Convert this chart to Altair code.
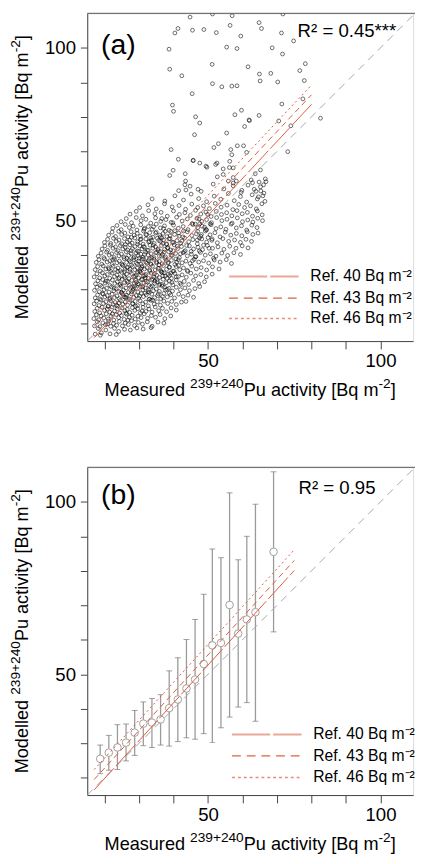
import altair as alt
import pandas as pd

# ---------------- data ----------------
TICKS = [20, 30, 40, 50, 60, 70, 80, 90, 100]
X_DOMAIN = [15, 109.43]
Y_DOMAIN = [15, 110]

OUTLIERS_A = [
    (44.8, 108.9), (51.3, 109.8), (57.0, 109.3), (71.7, 109.8), (40.4, 104.3), (41.3, 105.6),
    (45.5, 105.1), (48.8, 105.3), (52.4, 104.4), (56.4, 106.5), (59.5, 103.4), (64.8, 107.3),
    (65.5, 105.6), (71.3, 104.3), (74.8, 102.0), (38.7, 99.6), (55.4, 100.2), (58.4, 99.8),
    (68.6, 100.0), (71.6, 98.2), (38.9, 93.8), (42.4, 91.9), (51.2, 95.2), (61.6, 94.5),
    (64.9, 92.4), (65.1, 90.4), (68.2, 92.6), (70.2, 90.1), (76.6, 93.4), (78.2, 95.4),
    (77.9, 90.5), (45.4, 86.7), (51.3, 89.6), (54.0, 88.7), (56.9, 88.9), (58.4, 89.0),
    (39.7, 83.4), (40.0, 81.6), (46.4, 80.0), (47.6, 78.2), (46.1, 74.8), (57.8, 80.6),
    (59.7, 81.9), (61.9, 79.1), (60.6, 77.2), (64.8, 80.4), (71.4, 83.7), (77.5, 85.2),
    (82.6, 79.6), (55.4, 75.3), (39.3, 70.5), (41.4, 67.7), (45.7, 67.4), (47.6, 66.6),
    (51.7, 71.1), (53.0, 72.2), (56.6, 70.5), (56.9, 69.0), (58.5, 71.6), (60.3, 71.6),
    (73.1, 69.9), (38.9, 63.0), (39.9, 64.5), (43.4, 63.5), (43.5, 61.4), (43.6, 58.8),
    (47.1, 59.0), (49.4, 65.7), (52.2, 66.2), (54.4, 64.9), (56.2, 65.3), (57.3, 62.4),
    (61.2, 69.7), (63.7, 63.5), (65.2, 64.6), (70.5, 78.8), (74.0, 77.4), (45.7, 67.3),
    (49.7, 65.4), (52.6, 66.6), (52.7, 62.6), (54.4, 63.3), (56.3, 67.1), (57.3, 65.2),
    (55.9, 61.4), (57.3, 60.0), (58.2, 61.4), (59.6, 58.1), (62.0, 78.9), (43.3, 60.3),
]

CLOUD_A = [
    (17.3, 17.0), (18.2, 18.6), (19.1, 17.4), (20.4, 18.2), (21.6, 17.1), (22.9, 18.7), (24.1, 17.8),
    (25.8, 18.4), (27.5, 18.2), (29.4, 18.8), (31.2, 18.5), (33.5, 18.9), (18.8, 16.7), (23.4, 16.9),
    (17.1, 19.4), (17.9, 20.6), (18.7, 19.2), (19.5, 20.3), (20.3, 19.7), (21.2, 20.8), (21.8, 19.3),
    (22.6, 20.1), (23.5, 19.6), (24.3, 20.7), (25.2, 19.4), (26.0, 20.2), (26.9, 19.8), (27.8, 20.9),
    (28.7, 19.5), (29.8, 20.4), (31.0, 19.9), (32.4, 20.6), (33.8, 19.3), (35.5, 20.5), (37.2, 20.2),
    (20.9, 20.0),
    (16.9, 21.5), (17.6, 22.6), (18.3, 21.2), (19.0, 22.3), (19.8, 21.7), (20.5, 22.9), (21.1, 21.4),
    (21.9, 22.2), (22.7, 21.1), (23.4, 22.7), (24.1, 21.8), (24.9, 22.4), (25.7, 21.3), (26.4, 22.8),
    (27.2, 21.9), (28.0, 22.5), (28.9, 21.4), (29.7, 22.2), (30.6, 21.8), (31.5, 22.9), (32.5, 21.6),
    (33.6, 22.4), (34.8, 21.9), (36.1, 22.7), (37.5, 21.5), (39.2, 22.3), (22.3, 22.9), (26.8, 21.1),
    (17.2, 23.6), (17.9, 24.5), (18.6, 23.2), (19.3, 24.8), (20.0, 23.9), (20.8, 24.3), (21.5, 23.4),
    (22.2, 24.9), (22.9, 23.7), (23.7, 24.4), (24.4, 23.1), (25.1, 24.6), (25.9, 23.8), (26.6, 24.2),
    (27.3, 23.3), (28.1, 24.7), (28.8, 23.9), (29.6, 24.4), (30.4, 23.2), (31.2, 24.8), (32.0, 23.6),
    (32.9, 24.3), (33.8, 23.4), (34.7, 24.9), (35.7, 23.8), (36.8, 24.5), (38.0, 23.5), (39.3, 24.6),
    (40.8, 24.0), (21.0, 25.0), (26.2, 23.1), (30.9, 23.7),
    (17.0, 25.8), (17.7, 26.6), (18.4, 25.3), (19.0, 26.9), (19.7, 25.9), (20.4, 26.4), (21.1, 25.2),
    (21.8, 26.7), (22.5, 25.6), (23.1, 26.2), (23.8, 25.1), (24.6, 26.8), (25.3, 25.7), (26.0, 26.3),
    (26.7, 25.4), (27.4, 26.9), (28.1, 25.9), (28.9, 26.5), (29.6, 25.3), (30.3, 26.7), (31.1, 25.8),
    (31.9, 26.3), (32.7, 25.2), (33.5, 26.8), (34.4, 25.7), (35.3, 26.4), (36.2, 25.4), (37.2, 26.6),
    (38.3, 25.9), (39.5, 26.5), (40.8, 25.6), (42.3, 26.3), (43.6, 26.5), (24.2, 26.0), (29.0, 25.1),
    (34.0, 26.9),
    (17.3, 27.5), (18.0, 28.4), (18.7, 27.2), (19.4, 28.8), (20.1, 27.8), (20.8, 28.2), (21.5, 27.1),
    (22.2, 28.6), (22.9, 27.6), (23.6, 28.1), (24.3, 27.3), (25.0, 28.9), (25.7, 27.8), (26.4, 28.3),
    (27.1, 27.2), (27.8, 28.7), (28.5, 27.7), (29.2, 28.2), (29.9, 27.4), (30.6, 28.8), (31.3, 27.9),
    (32.1, 28.4), (32.9, 27.1), (33.7, 28.6), (34.5, 27.6), (35.4, 28.2), (36.3, 27.3), (37.2, 28.8),
    (38.2, 27.8), (39.2, 28.4), (40.3, 27.5), (41.5, 28.6), (42.8, 27.9), (44.2, 28.3), (45.8, 27.7),
    (26.0, 27.6), (31.8, 28.9), (36.8, 27.9),
    (17.1, 29.7), (17.8, 30.6), (18.5, 29.3), (19.2, 30.8), (19.9, 29.9), (20.6, 30.3), (21.3, 29.2),
    (22.0, 30.7), (22.7, 29.6), (23.4, 30.2), (24.1, 29.4), (24.8, 30.9), (25.5, 29.8), (26.2, 30.4),
    (26.9, 29.1), (27.6, 30.6), (28.3, 29.7), (29.0, 30.3), (29.7, 29.2), (30.4, 30.8), (31.1, 29.9),
    (31.8, 30.4), (32.6, 29.3), (33.4, 30.7), (34.2, 29.6), (35.0, 30.1), (35.9, 29.4), (36.8, 30.9),
    (37.7, 29.8), (38.7, 30.3), (39.7, 29.5), (40.8, 30.6), (42.0, 29.9), (43.3, 30.4), (44.6, 29.6),
    (46.2, 30.2), (47.6, 30.8), (28.7, 30.9), (33.0, 29.1), (38.2, 30.0),
    (17.4, 31.6), (18.1, 32.5), (18.8, 31.2), (19.5, 32.8), (20.2, 31.8), (20.9, 32.3), (21.6, 31.1),
    (22.3, 32.7), (23.0, 31.7), (23.7, 32.2), (24.4, 31.3), (25.1, 32.9), (25.8, 31.9), (26.5, 32.4),
    (27.2, 31.2), (27.9, 32.6), (28.6, 31.6), (29.3, 32.1), (30.0, 31.4), (30.7, 32.8), (31.4, 31.8),
    (32.1, 32.3), (32.9, 31.1), (33.7, 32.7), (34.5, 31.7), (35.3, 32.2), (36.1, 31.5), (37.0, 32.9),
    (37.9, 31.9), (38.8, 32.4), (39.8, 31.3), (40.8, 32.7), (41.9, 31.8), (43.1, 32.3), (44.4, 31.4),
    (45.8, 32.6), (47.3, 31.7), (49.0, 32.2), (31.0, 32.9), (35.8, 31.2), (26.8, 32.0),
    (17.0, 33.6), (17.8, 34.5), (18.6, 33.3), (19.4, 34.8), (20.1, 33.9), (20.8, 34.3), (21.5, 33.2),
    (22.2, 34.7), (22.9, 33.7), (23.6, 34.2), (24.3, 33.4), (25.0, 34.9), (25.7, 33.8), (26.4, 34.4),
    (27.1, 33.1), (27.8, 34.6), (28.5, 33.7), (29.2, 34.2), (29.9, 33.3), (30.6, 34.8), (31.3, 33.9),
    (32.0, 34.3), (32.7, 33.2), (33.5, 34.7), (34.3, 33.6), (35.1, 34.1), (35.9, 33.4), (36.7, 34.9),
    (37.6, 33.8), (38.5, 34.4), (39.4, 33.2), (40.4, 34.6), (41.4, 33.7), (42.5, 34.2), (43.7, 33.5),
    (45.0, 34.7), (46.4, 33.9), (47.9, 34.3), (49.5, 33.6), (51.2, 34.4), (29.6, 34.9), (34.0, 33.0),
    (38.9, 34.0),
    (17.3, 35.7), (18.0, 36.6), (18.8, 35.3), (19.6, 36.8), (20.4, 35.9), (21.1, 36.3), (21.8, 35.2),
    (22.5, 36.7), (23.2, 35.7), (23.9, 36.2), (24.6, 35.4), (25.3, 36.9), (26.0, 35.8), (26.7, 36.4),
    (27.4, 35.1), (28.1, 36.6), (28.8, 35.7), (29.5, 36.2), (30.2, 35.3), (30.9, 36.8), (31.6, 35.9),
    (32.3, 36.3), (33.1, 35.2), (33.9, 36.7), (34.7, 35.6), (35.5, 36.1), (36.3, 35.4), (37.1, 36.9),
    (38.0, 35.8), (38.9, 36.4), (39.8, 35.2), (40.8, 36.6), (41.8, 35.7), (42.9, 36.2), (44.0, 35.5),
    (45.3, 36.7), (46.6, 35.9), (48.0, 36.3), (49.6, 35.6), (51.3, 36.5), (53.2, 35.9), (30.5, 36.0),
    (36.5, 35.0), (25.8, 35.1),
    (17.6, 37.8), (18.4, 38.6), (19.2, 37.3), (20.0, 38.8), (20.8, 37.9), (21.5, 38.3), (22.2, 37.2),
    (22.9, 38.7), (23.6, 37.7), (24.3, 38.2), (25.0, 37.4), (25.7, 38.9), (26.4, 37.8), (27.1, 38.4),
    (27.8, 37.1), (28.5, 38.6), (29.2, 37.7), (29.9, 38.2), (30.6, 37.3), (31.3, 38.8), (32.0, 37.9),
    (32.7, 38.3), (33.5, 37.2), (34.3, 38.7), (35.1, 37.6), (35.9, 38.1), (36.7, 37.4), (37.6, 38.9),
    (38.5, 37.8), (39.4, 38.4), (40.4, 37.2), (41.4, 38.6), (42.5, 37.7), (43.6, 38.2), (44.8, 37.5),
    (46.0, 38.7), (47.3, 37.9), (48.7, 38.3), (50.2, 37.6), (51.8, 38.5), (53.5, 37.9), (55.3, 38.6),
    (56.8, 37.5), (33.0, 38.9), (27.5, 38.0),
    (18.2, 39.6), (19.0, 40.5), (19.8, 39.2), (20.6, 40.8), (21.4, 39.9), (22.1, 40.3), (22.8, 39.2),
    (23.5, 40.7), (24.2, 39.7), (24.9, 40.2), (25.6, 39.4), (26.3, 40.9), (27.0, 39.8), (27.7, 40.4),
    (28.4, 39.1), (29.1, 40.6), (29.8, 39.7), (30.5, 40.2), (31.2, 39.3), (31.9, 40.8), (32.7, 39.9),
    (33.5, 40.3), (34.3, 39.2), (35.1, 40.7), (35.9, 39.6), (36.8, 40.1), (37.7, 39.4), (38.6, 40.9),
    (39.6, 39.8), (40.6, 40.4), (41.7, 39.2), (42.8, 40.6), (44.0, 39.7), (45.2, 40.2), (46.5, 39.5),
    (47.8, 40.7), (49.2, 39.9), (50.7, 40.3), (52.3, 39.6), (54.0, 40.5), (55.7, 39.8), (57.5, 40.6),
    (59.4, 40.1), (36.2, 40.9), (30.0, 39.0),
    (19.3, 41.7), (20.1, 42.6), (20.9, 41.3), (21.7, 42.8), (22.5, 41.9), (23.2, 42.3), (23.9, 41.2),
    (24.6, 42.7), (25.3, 41.7), (26.0, 42.2), (26.7, 41.4), (27.4, 42.9), (28.1, 41.8), (28.8, 42.4),
    (29.5, 41.1), (30.2, 42.6), (30.9, 41.7), (31.6, 42.2), (32.4, 41.3), (33.2, 42.8), (34.0, 41.9),
    (34.8, 42.3), (35.6, 41.2), (36.5, 42.7), (37.4, 41.6), (38.3, 42.1), (39.2, 41.4), (40.2, 42.9),
    (41.2, 41.8), (42.3, 42.4), (43.4, 41.2), (44.6, 42.6), (45.8, 41.7), (47.1, 42.2), (48.4, 41.5),
    (49.8, 42.7), (51.3, 41.9), (52.9, 42.3), (54.6, 41.6), (56.3, 42.5), (58.1, 41.9), (59.9, 42.6),
    (61.6, 42.0), (38.0, 43.0), (45.1, 41.0),
    (20.0, 43.6), (20.9, 44.5), (21.8, 43.3), (22.6, 44.8), (23.4, 43.9), (24.2, 44.3), (25.0, 43.2),
    (25.8, 44.7), (26.6, 43.7), (27.3, 44.2), (28.0, 43.4), (28.8, 44.9), (29.6, 43.8), (30.4, 44.4),
    (31.2, 43.1), (32.0, 44.6), (32.8, 43.7), (33.6, 44.2), (34.4, 43.3), (35.3, 44.8), (36.2, 43.9),
    (37.1, 44.3), (38.0, 43.2), (39.0, 44.7), (40.0, 43.6), (41.0, 44.1), (42.1, 43.4), (43.2, 44.9),
    (44.4, 43.8), (45.6, 44.4), (46.9, 43.2), (48.2, 44.6), (49.6, 43.7), (51.1, 44.2), (52.7, 43.5),
    (54.3, 44.7), (56.0, 43.9), (57.7, 44.3), (59.4, 43.6), (61.0, 44.5), (62.6, 43.9), (47.5, 44.9),
    (36.6, 44.9),
    (21.2, 45.7), (22.2, 46.6), (23.2, 45.3), (24.1, 46.8), (25.0, 45.9), (25.9, 46.3), (26.8, 45.2),
    (27.7, 46.7), (28.6, 45.7), (29.5, 46.2), (30.4, 45.4), (31.3, 46.9), (32.2, 45.8), (33.1, 46.4),
    (34.0, 45.1), (35.0, 46.6), (36.0, 45.7), (37.0, 46.2), (38.1, 45.3), (39.2, 46.8), (40.3, 45.9),
    (41.5, 46.3), (42.7, 45.2), (44.0, 46.7), (45.3, 45.6), (46.6, 46.1), (47.9, 45.4), (49.2, 46.9),
    (50.6, 45.8), (52.0, 46.4), (53.5, 45.2), (55.0, 46.6), (56.6, 45.7), (58.2, 46.2), (59.8, 45.5),
    (61.4, 46.7), (63.0, 45.9), (64.5, 46.3), (47.0, 46.8), (50.0, 45.0),
    (22.4, 47.7), (23.6, 48.5), (24.8, 47.3), (26.0, 48.8), (27.2, 47.9), (28.3, 48.3), (29.4, 47.2),
    (30.5, 48.7), (31.6, 47.7), (32.7, 48.2), (33.8, 47.4), (35.0, 48.9), (36.2, 47.8), (37.4, 48.4),
    (38.7, 47.1), (40.0, 48.6), (41.4, 47.7), (42.8, 48.2), (44.2, 47.3), (45.6, 48.8), (47.0, 47.9),
    (48.3, 48.3), (49.6, 47.2), (50.9, 48.7), (52.3, 47.6), (53.7, 48.1), (55.2, 47.4), (56.7, 48.9),
    (58.2, 47.8), (59.7, 48.4), (61.2, 47.2), (62.7, 48.6), (64.2, 47.9), (46.3, 48.9), (49.0, 48.0),
    (24.8, 49.6), (26.3, 50.5), (27.8, 49.3), (29.2, 50.8), (30.6, 49.9), (32.0, 50.3), (33.4, 49.2),
    (34.8, 50.7), (36.3, 49.7), (37.8, 50.2), (39.3, 49.4), (40.9, 50.9), (42.5, 49.8), (44.0, 50.4),
    (45.4, 49.1), (46.8, 50.6), (48.2, 49.7), (49.6, 50.2), (51.0, 49.3), (52.5, 50.8), (54.0, 49.9),
    (55.5, 50.3), (57.0, 49.2), (58.5, 50.7), (60.0, 49.6), (61.5, 50.1), (63.0, 49.5), (64.4, 50.6),
    (65.8, 49.9), (47.6, 49.0),
    (27.4, 51.8), (29.2, 52.6), (31.0, 51.3), (32.8, 52.8), (34.6, 51.9), (36.4, 52.3), (38.2, 51.2),
    (40.0, 52.7), (41.7, 51.7), (43.3, 52.2), (44.9, 51.4), (46.4, 52.9), (47.9, 51.8), (49.4, 52.4),
    (50.9, 51.1), (52.4, 52.6), (53.9, 51.7), (55.4, 52.2), (56.9, 51.3), (58.4, 52.8), (59.9, 51.9),
    (61.4, 52.3), (62.9, 51.2), (64.3, 52.7), (65.7, 51.6),
    (30.2, 53.7), (32.6, 54.5), (35.0, 53.3), (37.4, 54.8), (39.6, 53.9), (41.6, 54.3), (43.5, 53.2),
    (45.3, 54.7), (47.0, 53.7), (48.7, 54.2), (50.4, 53.4), (52.1, 54.9), (53.8, 53.8), (55.5, 54.4),
    (57.2, 53.1), (58.9, 54.6), (60.6, 53.7), (62.3, 54.2), (64.0, 53.3), (65.6, 54.8),
    (33.8, 56.2), (37.5, 55.6), (40.4, 57.1), (42.9, 55.9), (45.1, 57.6), (47.3, 56.3), (49.6, 55.4),
    (51.8, 57.0), (53.7, 56.1), (55.9, 57.8), (57.6, 55.7), (59.4, 56.9), (61.2, 55.3), (62.8, 57.4),
    (64.3, 56.2), (65.9, 57.1), (66.5, 55.5),
    (41.5, 58.6), (44.8, 59.9), (48.0, 58.4), (51.5, 60.5), (54.6, 59.1), (57.3, 60.8), (59.8, 58.7),
    (61.6, 60.2), (63.4, 59.0), (64.8, 61.1), (66.1, 60.3), (65.3, 58.5), (62.5, 61.7), (66.6, 62.0),
    (63.9, 58.4), (65.2, 59.7), (66.2, 57.9), (64.6, 56.8), (62.9, 60.9), (66.8, 61.2),
    # dense core
    (28.4, 30.2), (29.7, 31.6), (31.1, 30.7), (32.5, 32.1), (33.9, 31.0), (35.3, 32.8), (36.7, 31.4),
    (38.1, 33.2), (39.5, 32.0), (40.8, 33.6), (28.9, 33.8), (30.3, 35.1), (31.7, 34.0), (33.1, 35.6),
    (34.5, 34.5), (35.9, 36.1), (37.3, 34.8), (38.7, 36.4), (40.1, 35.3), (41.5, 36.9), (29.5, 37.3),
    (30.9, 38.7), (32.3, 37.6), (33.7, 39.1), (35.1, 38.0), (36.5, 39.6), (37.9, 38.3), (39.3, 39.9),
    (40.7, 38.8), (42.0, 40.3), (29.9, 41.0), (31.3, 42.4), (32.7, 41.3), (34.1, 42.8), (35.5, 41.7),
    (36.9, 43.3), (38.3, 42.0), (39.7, 43.6), (41.1, 42.5), (42.4, 44.0), (30.6, 44.6), (32.0, 45.9),
    (33.4, 44.9), (34.8, 46.3), (36.2, 45.2), (37.6, 46.8), (39.0, 45.5), (40.4, 47.0), (24.6, 31.5),
    (25.9, 33.4), (23.8, 35.2), (25.2, 37.1), (26.5, 39.0), (24.9, 29.2), (26.3, 27.7), (27.7, 41.2),
    (26.1, 43.0), (27.8, 45.1),
    (25.3, 28.6), (27.9, 29.3), (30.2, 28.1), (32.8, 29.8), (35.6, 28.7), (37.4, 30.6), (29.1, 32.6),
    (31.8, 33.3), (34.6, 32.4), (36.9, 33.9), (39.2, 34.7), (27.4, 35.8), (30.8, 36.4), (33.4, 37.4),
    (35.8, 37.1), (38.4, 37.6), (40.9, 37.9), (28.6, 39.4), (31.6, 40.1), (34.8, 40.6), (37.3, 40.8),
    (39.9, 41.2), (43.1, 40.9), (29.6, 43.1), (33.0, 43.9), (35.7, 44.2), (38.7, 44.6), (41.6, 45.4),
    (31.5, 47.4), (34.2, 48.1), (37.1, 47.6), (26.5, 36.3), (24.1, 33.1), (22.8, 30.3), (21.6, 27.4),
    (23.5, 25.4), (28.2, 25.8), (33.1, 27.2), (38.8, 28.9), (42.2, 31.4), (44.1, 35.2), (45.5, 38.3),
    (43.8, 42.7), (42.9, 46.9), (39.8, 49.3), (36.6, 50.5), (22.4, 38.6), (21.3, 35.9), (20.4, 32.4),
    (19.6, 28.6),
    (46.3, 39.4), (47.5, 41.1), (48.7, 42.8), (46.9, 44.3), (48.1, 45.9), (49.4, 47.4), (50.6, 49.0),
    (47.4, 50.4), (49.9, 51.7), (51.2, 44.6), (50.3, 41.9), (51.6, 39.0),
]

REF_NAMES = ["Ref. 40", "Ref. 43", "Ref. 46"]
REF_A_X = [17.0, 80.0]
REF_A_Y = {"Ref. 40": [16.0, 83.6], "Ref. 43": [19.3, 86.4], "Ref. 46": [22.2, 89.2]}
REF_B_X = [17.0, 75.0]
REF_B_Y = {"Ref. 40": [16.5, 80.1], "Ref. 43": [19.5, 83.0], "Ref. 46": [22.4, 86.1]}
ONE_TO_ONE = [15, 110]

PB_X = [18.75, 21.25, 23.75, 26.25, 28.75, 31.25, 33.75, 36.25, 38.75, 41.25,
        43.75, 46.25, 48.75, 51.25, 53.75, 56.25, 58.75, 61.25, 63.75, 69.0]
PB_Y = [25.5, 27.3, 28.8, 30.2, 33.1, 35.7, 36.0, 36.9, 40.2, 42.7,
        45.9, 48.5, 53.0, 58.4, 59.1, 70.1, 61.8, 65.9, 68.0, 85.5]
PB_LO = [21.2, 22.2, 22.4, 24.9, 26.5, 29.3, 28.8, 29.5, 29.2, 30.5,
         31.6, 31.2, 32.8, 30.2, 34.5, 37.6, 40.5, 41.8, 36.4, 62.3]
PB_HI = [29.5, 32.3, 35.4, 35.6, 39.5, 42.0, 43.0, 44.1, 51.0, 54.8,
         60.1, 65.9, 73.2, 86.3, 83.8, 102.6, 83.2, 90.0, 99.3, 108.7]

LEGEND_LABELS = ["Ref. 40 Bq m\u207b\u00b2", "Ref. 43 Bq m\u207b\u00b2", "Ref. 46 Bq m\u207b\u00b2"]
R2_A = "R\u00b2 = 0.45***"
R2_B = "R\u00b2 = 0.95"
X_TITLE = [("Measured ", False), ("239+240", True), ("Pu activity [Bq m", False), ("-2", True), ("]", False)]
Y_TITLE = [("Modelled ", False), ("239+240", True), ("Pu activity [Bq m", False), ("-2", True), ("]", False)]

# ---------------- styling ----------------
FONT = "Liberation Sans"
W, H = 333, 335
MAIN_SIZE, SUP_SIZE, SUP_RAISE = 18.5, 14, 8
RED = "#E05A3A"
DASHES = {"Ref. 40": [30, 3], "Ref. 43": [6, 4], "Ref. 46": [2, 3]}
LEG_DASHES = {"Ref. 40": [39, 3], "Ref. 43": [9, 6], "Ref. 46": [3, 3]}
LEG_COLORS = {"Ref. 40": "#E9A898", "Ref. 43": "#E0603F", "Ref. 46": "#E88C76"}
LEG_WIDTHS = {"Ref. 40": 2, "Ref. 43": 1.3, "Ref. 46": 1.6}

ADV = {" ": 278, "M": 833, "e": 556, "a": 556, "s": 500, "u": 556, "r": 333, "d": 556, "P": 667,
       "c": 500, "t": 278, "i": 222, "v": 500, "y": 500, "[": 278, "B": 667, "q": 556, "m": 833,
       "]": 278, "o": 556, "l": 222, "-": 333, "+": 584}


def text_width(s, size):
    return sum(ADV.get(ch, 556) for ch in s) * size / 1000.0


xs = alt.Scale(domain=X_DOMAIN, nice=False, zero=False)
ys = alt.Scale(domain=Y_DOMAIN, nice=False, zero=False)
LABEL_EXPR = "datum.value % 50 == 0 ? datum.label : ''"

AX_X = alt.Axis(values=TICKS, labelExpr=LABEL_EXPR, title=None, tickSize=8, labelFontSize=19,
                labelPadding=3, domainColor="#444", tickColor="#444", labelColor="black",
                grid=False, labelFont=FONT, labelFlush=False)
AX_Y = alt.Axis(values=TICKS, labelExpr=LABEL_EXPR, title=None, tickSize=7, labelFontSize=19,
                labelPadding=5, domainColor="#444", tickColor="#444", labelColor="black",
                grid=False, labelFont=FONT, labelFlush=False)


def X(field):
    return alt.X(field, scale=xs, axis=AX_X, title=None)


def Y(field):
    return alt.Y(field, scale=ys, axis=AX_Y, title=None)


ONE = pd.DataFrame({"k": [0]})


def txt(s, x, y, size, angle=0, align="left", baseline="alphabetic"):
    kw = dict(align=align, baseline=baseline, font=FONT, fontSize=size, color="black")
    if angle:
        kw["angle"] = angle
    return alt.Chart(ONE).mark_text(**kw).encode(x=alt.value(x), y=alt.value(y), text=alt.value(s))


def x_title():
    total = sum(text_width(s, SUP_SIZE if sup else MAIN_SIZE) for s, sup in X_TITLE)
    x = W / 2 - total / 2
    base = H + 56
    out = []
    for s, sup in X_TITLE:
        size = SUP_SIZE if sup else MAIN_SIZE
        out.append(txt(s, x, base - (SUP_RAISE if sup else 0), size))
        x += text_width(s, size)
    return out


def y_title():
    total = sum(text_width(s, SUP_SIZE if sup else MAIN_SIZE) for s, sup in Y_TITLE)
    y = H / 2 + total / 2
    base = -61
    out = []
    for s, sup in Y_TITLE:
        size = SUP_SIZE if sup else MAIN_SIZE
        out.append(txt(s, base - (SUP_RAISE if sup else 0), y, size, angle=270))
        y -= text_width(s, size)
    return out


def ref_lines(xvals, yvals):
    layers = []
    for name in REF_NAMES:
        d = pd.DataFrame({"measured": xvals, "modelled": yvals[name]})
        layers.append(alt.Chart(d).mark_line(color=RED, strokeWidth=1, strokeDash=DASHES[name], clip=True)
                      .encode(x=X("measured:Q"), y=Y("modelled:Q")))
    return layers


def one_to_one():
    d = pd.DataFrame({"measured": ONE_TO_ONE, "modelled": ONE_TO_ONE})
    return alt.Chart(d).mark_line(color="#A6A6A6", strokeWidth=1, strokeDash=[8, 6], clip=True).encode(
        x=X("measured:Q"), y=Y("modelled:Q"))


def legend(x0, x1, xt, rows):
    layers = []
    for name, lab, ry in zip(REF_NAMES, LEGEND_LABELS, rows):
        layers.append(alt.Chart(ONE).mark_rule(color=LEG_COLORS[name], strokeWidth=LEG_WIDTHS[name],
                                               strokeDash=LEG_DASHES[name])
                      .encode(x=alt.value(x0), x2=alt.value(x1), y=alt.value(ry)))
        layers.append(txt(lab, xt, ry, 16, baseline="middle"))
    return layers


def top_border():
    return alt.Chart(ONE).mark_rule(color="#555", strokeWidth=1).encode(
        x=alt.value(0), x2=alt.value(W + 2), y=alt.value(0))


# ---------------- panel (a) ----------------
pts = pd.DataFrame(OUTLIERS_A + CLOUD_A, columns=["measured", "modelled"])
scatter = alt.Chart(pts).mark_point(shape="circle", filled=False, size=15, stroke="#000",
                                    strokeWidth=0.8, opacity=0.72, clip=True).encode(
    x=X("measured:Q"), y=Y("modelled:Q"))

panel_a = alt.layer(
    scatter, one_to_one(), *ref_lines(REF_A_X, REF_A_Y),
    *legend(145, 216, 228, [269, 291, 312]),
    txt(R2_A, 215, 24, 19), txt("(a)", 14, 42, 29), top_border(), *x_title(), *y_title()
).properties(width=W, height=H)

# ---------------- panel (b) ----------------
dfb = pd.DataFrame({"measured": PB_X, "modelled": PB_Y, "lo": PB_LO, "hi": PB_HI})
bars = alt.Chart(dfb).mark_rule(color="#9a9a9a", strokeWidth=1.3).encode(
    x=X("measured:Q"), y=Y("lo:Q"), y2="hi:Q")
cap_lo = alt.Chart(dfb).mark_tick(orient="horizontal", size=6, thickness=1, color="#777").encode(
    x=X("measured:Q"), y=Y("lo:Q"))
cap_hi = alt.Chart(dfb).mark_tick(orient="horizontal", size=6, thickness=1, color="#777").encode(
    x=X("measured:Q"), y=Y("hi:Q"))
means = alt.Chart(dfb).mark_point(shape="circle", filled=True, fill="white", stroke="#a0a0a0",
                                  strokeWidth=1, size=60, opacity=1).encode(
    x=X("measured:Q"), y=Y("modelled:Q"))

panel_b = alt.layer(
    bars, cap_lo, cap_hi, means, one_to_one(), *ref_lines(REF_B_X, REF_B_Y),
    *legend(148, 219, 231, [273, 295, 317]),
    txt(R2_B, 216, 27, 19), txt("(b)", 14, 37, 29), top_border(), *x_title(), *y_title()
).properties(width=W, height=H)

chart = alt.vconcat(panel_a, panel_b, spacing=68).properties(
    padding={"left": 0, "top": -5, "right": 0, "bottom": 0}
).configure_view(strokeWidth=0, stroke="transparent").configure(font=FONT)

chart.save("out.html", embed_options={"renderer": "svg", "actions": False})
